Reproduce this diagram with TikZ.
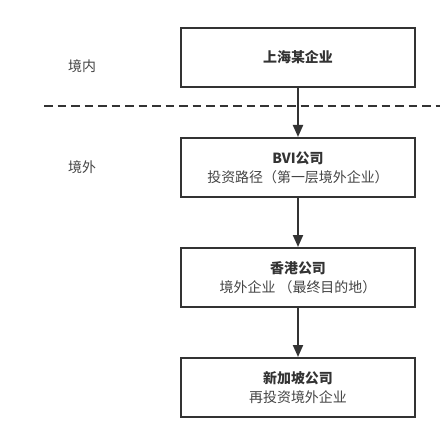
\documentclass[tikz,border=0pt]{standalone}
\usepackage{fontspec}
\newfontfamily\cjk{Noto Sans CJK SC}
\usetikzlibrary{arrows.meta, positioning}
\definecolor{linegray}{HTML}{333333}
\definecolor{textgray}{HTML}{444444}

\begin{document}
\begin{tikzpicture}[x=1bp,y=-1bp,
  box/.style={draw=linegray, line width=2bp, minimum width=234bp, minimum height=59bp, inner sep=0pt, align=center, text=textgray, font=\cjk\fontsize{14}{19}\selectfont},
  flow/.style={draw=linegray, line width=2bp, -{Triangle[length=12bp,width=10bp]}},
  zone/.style={text=textgray, font=\cjk\fontsize{14}{16}\selectfont}]
\useasboundingbox (0,0) rectangle (440,440);
% the chain of companies
\node[box] (sh) at (298,57.5) {\textcolor{linegray}{\textbf{上海某企业}}};
\node[box, below=49bp of sh] (bvi) {\textcolor{linegray}{\textbf{BVI公司}}\\投资路径（第一层境外企业）};
\node[box, below=49bp of bvi] (hk) {\textcolor{linegray}{\textbf{香港公司}}\\境外企业 （最终目的地）};
\node[box, below=49bp of hk] (sg) {\textcolor{linegray}{\textbf{新加坡公司}}\\再投资境外企业};
\draw[flow] (sh) -- (bvi);
\draw[flow] (bvi) -- (hk);
\draw[flow] (hk) -- (sg);
% border line
\coordinate (cutL) at (44,106);
\coordinate (cutR) at (440,106);
\draw[linegray, line width=1.6bp, dash pattern=on 8.5bp off 5bp] (cutL) -- (cutR);
\node[zone] (inland) at (82,66) {境内};
\node[zone] (abroad) at (82,167) {境外};
\end{tikzpicture}
\end{document}
